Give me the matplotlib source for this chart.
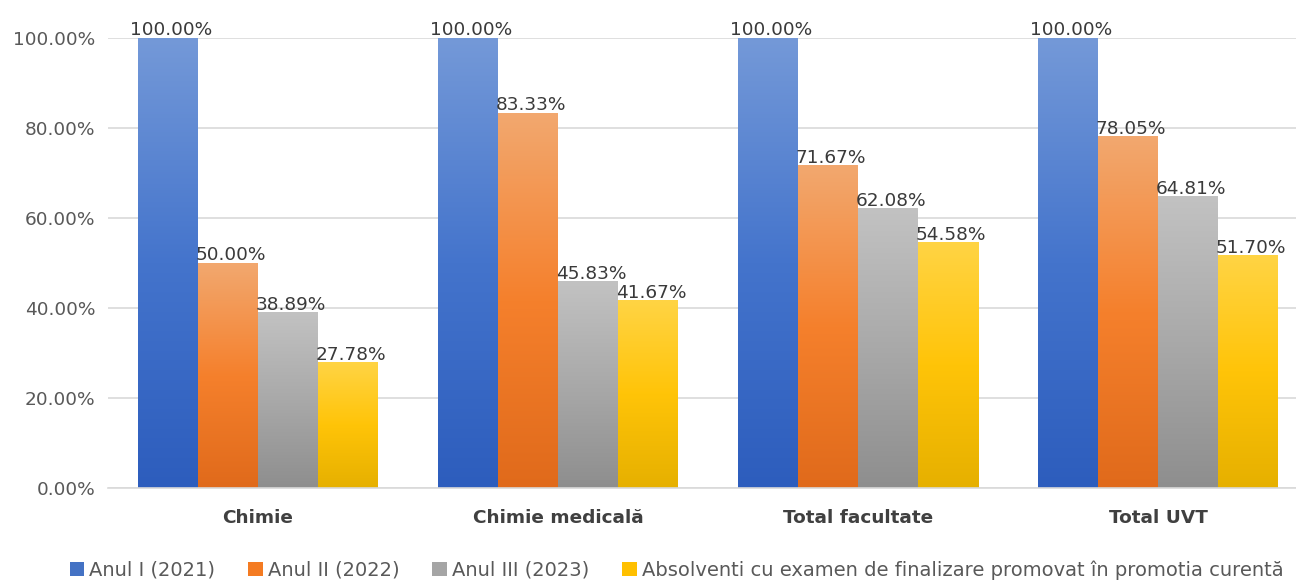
import matplotlib
matplotlib.use("Agg")
import matplotlib.pyplot as plt
import numpy as np
from matplotlib.colors import LinearSegmentedColormap
from matplotlib.patches import Patch

categories = ["Chimie", "Chimie medicală", "Total facultate", "Total UVT"]
series_names = ["Anul I (2021)", "Anul II (2022)", "Anul III (2023)",
                "Absolventi cu examen de finalizare promovat în promotia curentă"]
anul1 = [100.00, 100.00, 100.00, 100.00]
anul2 = [50.00, 83.33, 71.67, 78.05]
anul3 = [38.89, 45.83, 62.08, 64.81]
absolventi = [27.78, 41.67, 54.58, 51.70]
yticks = [0, 20, 40, 60, 80, 100]

series = [anul1, anul2, anul3, absolventi]
# gradient stops: bottom, middle, top
grads = [
    ("#2d5dbd", "#4474cc", "#7499d8"),
    ("#e06a1b", "#f5802c", "#f2a86f"),
    ("#8e8e8e", "#a9a9a9", "#c2c2c2"),
    ("#e6b000", "#ffc408", "#ffd444"),
]
mid_colors = ["#4472c4", "#f47b22", "#a5a5a5", "#ffc000"]

W, H = 1296, 580
fig = plt.figure(figsize=(W / 100, H / 100), dpi=100)
left = 108 / W
bottom = 1 - 488 / H
height = (488 - 38) / H
ax = fig.add_axes([left, bottom, 1 - left, height])

bw = 0.2
x = np.arange(len(categories))
for i, (vals, g) in enumerate(zip(series, grads)):
    cmap = LinearSegmentedColormap.from_list(f"g{i}", list(g))
    grad = np.linspace(0, 1, 256).reshape(-1, 1)
    for xi, v in zip(x, vals):
        x0 = xi - 0.4 + i * bw
        ax.imshow(grad, cmap=cmap, origin="lower", aspect="auto",
                  extent=[x0, x0 + bw, 0, v], zorder=2, interpolation="bilinear")
        ax.text(x0 + bw / 2 + 0.01, v - 0.3, f"{v:.2f}%", ha="center", va="bottom",
                fontsize=13.3, color="#3a3a3a", zorder=5, clip_on=False)

ax.set_xlim(-0.5, -0.5 + (W - 108) / 300)
ax.set_ylim(0, 100)
ax.set_yticks(yticks)
ax.set_yticklabels([f"{t:.2f}%" for t in yticks], fontsize=13.3, color="#595959")
ax.set_xticks(x)
ax.set_xticklabels(categories, fontsize=13.3, fontweight="bold", color="#404040")
ax.tick_params(axis="both", length=0)
ax.tick_params(axis="x", pad=15)
ax.tick_params(axis="y", pad=9)
ax.grid(axis="y", color="#d9d9d9", linewidth=1.2, zorder=0)
ax.set_axisbelow(True)
for s in ["top", "right", "left"]:
    ax.spines[s].set_visible(False)
ax.spines["bottom"].set_color("#d9d9d9")
ax.spines["bottom"].set_linewidth(1.2)

handles = [Patch(facecolor=c, edgecolor="none") for c in mid_colors]
fig.legend(handles, series_names, loc="center", bbox_to_anchor=(0.522, 1 - 570 / H),
           ncol=4, frameon=False, fontsize=14.0, labelcolor="#595959",
           handlelength=0.75, handleheight=0.8, handletextpad=0.25, columnspacing=1.7)

fig.savefig("out.png", dpi=100)
